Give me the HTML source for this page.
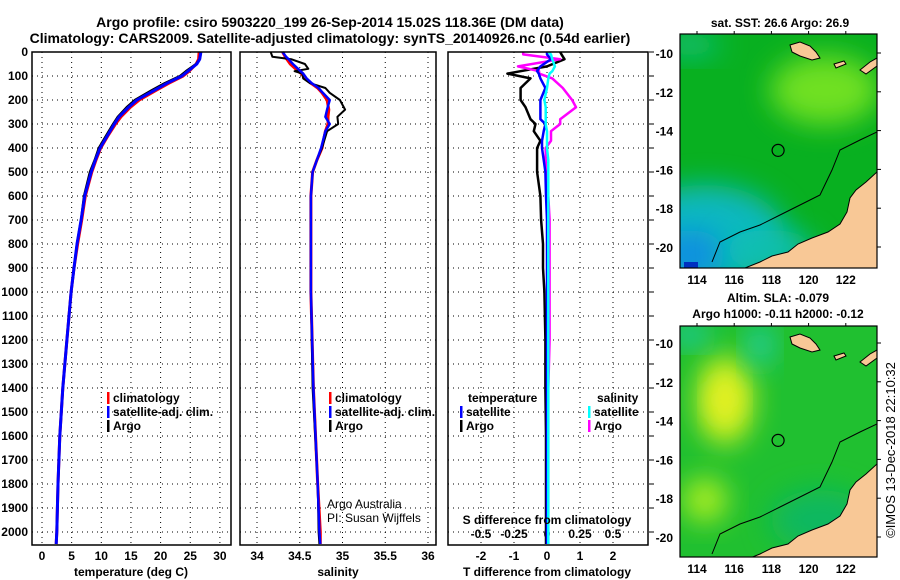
<!DOCTYPE html>
<html><head><meta charset="utf-8">
<style>
body{margin:0;background:#fff;}
svg{display:block;font-family:"Liberation Sans",Arial,sans-serif;}
.b{font-weight:bold;font-size:12px;}
.n{font-weight:normal;}
.t{font-weight:bold;font-size:14px;}
</style></head>
<body>
<svg id="c" width="900" height="580" viewBox="0 0 900 580">
<defs>
<filter id="bl" x="-50%" y="-50%" width="200%" height="200%"><feGaussianBlur stdDeviation="14"/></filter>
<clipPath id="cm1"><rect x="680" y="34" width="197" height="234"/></clipPath>
<clipPath id="cm2"><rect x="680" y="326" width="197" height="231"/></clipPath>
</defs>
<text class="t" x="330" y="27" text-anchor="middle">Argo profile: csiro 5903220_199 26-Sep-2014 15.02S 118.36E (DM data)</text>
<text class="t" x="330" y="43" text-anchor="middle">Climatology: CARS2009. Satellite-adjusted climatology: synTS_20140926.nc (0.54d earlier)</text>
<g id="g"></g>
</svg>
<script>
// ---------- data ----------
const tempDepth=[0,30,50,80,100,130,160,200,230,270,300,350,400,450,500,600,700,800,900,1000,1200,1400,1600,1800,2000,2050];
const tempArgo=[26.8,26.6,26.0,24.3,23.3,20.7,18.5,15.7,14.3,12.8,12.0,10.8,9.6,8.9,8.1,7.1,6.6,5.9,5.4,4.9,4.2,3.5,3.0,2.7,2.5,2.4];
const tempClim=[26.5,26.4,26.0,24.8,23.8,21.4,19.2,16.4,14.9,13.3,12.4,11.1,9.9,9.1,8.4,7.3,6.7,6.0,5.4,4.9,4.2,3.5,3.0,2.7,2.5,2.4];
const tempSat=[26.8,26.6,26.1,24.6,23.6,21.1,18.9,16.0,14.6,13.0,12.2,11.0,9.8,9.0,8.3,7.2,6.6,5.9,5.4,4.9,4.2,3.5,3.0,2.7,2.5,2.4];
const salDepth=[0,20,30,50,70,80,90,110,130,150,170,200,240,270,300,330,400,450,500,600,1000,1400,1800,2000,2050];
const salArgo=[34.16,34.18,34.40,34.56,34.60,34.44,34.53,34.54,34.62,34.80,34.85,34.97,35.03,34.94,34.95,34.82,34.76,34.70,34.65,34.63,34.63,34.65,34.71,34.72,34.73];
const salClim=[34.30,34.33,34.35,34.39,34.45,34.48,34.52,34.56,34.63,34.71,34.76,34.82,34.84,34.83,34.83,34.80,34.76,34.70,34.65,34.63,34.63,34.66,34.71,34.74,34.74];
const salSat=[34.30,34.34,34.37,34.42,34.48,34.51,34.54,34.58,34.64,34.72,34.77,34.85,34.82,34.80,34.85,34.80,34.75,34.70,34.65,34.63,34.63,34.66,34.71,34.73,34.74];
const diffDepth=[0,10,30,60,80,90,110,150,200,230,280,300,330,370,400,450,500,600,700,800,900,1000,1200,1400,1600,2000,2050];
const tDiffArgo=[0.4,0.44,0.53,0.0,-0.8,-1.2,-0.5,-0.8,-0.8,-0.65,-0.5,-0.35,-0.4,-0.2,-0.3,-0.3,-0.3,-0.2,-0.18,-0.12,-0.12,-0.08,-0.05,-0.05,-0.03,-0.03,-0.03];
const tDiffSat=[0.0,0.0,0.12,-0.2,-0.3,-0.25,-0.2,-0.05,-0.2,-0.2,-0.2,-0.05,-0.1,-0.15,-0.15,-0.1,-0.05,-0.03,0,0,0,0,0,0,0,0,0];
const sDiffArgo=[-0.18,-0.18,0.1,-0.22,-0.06,-0.06,0.04,0.12,0.19,0.22,0.1,0.1,0.03,0.03,-0.01,-0.01,0,0.01,0.02,0.02,0.02,0.02,0.02,0.01,0.01,0.01,0.01];
const sDiffSat=[0.01,0.03,0.04,0.06,0.04,0.02,0.01,0.0,-0.02,-0.01,-0.01,-0.01,0,0,0,0.01,0.01,0.01,0.01,0.01,0.01,0.01,0.01,0.01,0.01,0.01,0.01];
const depthTicks=[0,100,200,300,400,500,600,700,800,900,1000,1100,1200,1300,1400,1500,1600,1700,1800,1900,2000];
const tempTicks=[0,5,10,15,20,25,30];
const salTicks=[34,34.5,35,35.5,36];
const salTickLabels=["34","34.5","35","35.5","36"];
const tdTicks=[-2,-1,0,1,2];
const sdTicks=[-0.5,-0.25,0,0.25,0.5];
const sdTickLabels=["-0.5","-0.25","0","0.25","0.5"];
const lonTicks=[114,116,118,120,122];
const latTicks=[-10,-12,-14,-16,-18,-20];
const floatLon=118.36, floatLat=-15.02;

// ---------- scales ----------
const NS="http://www.w3.org/2000/svg";
const G=document.getElementById('g');
const yD=d=>52+d*0.24;
const xT=t=>42+t*5.93;
const xS=s=>257+(s-34)*85.5;
const xTD=v=>547+v*33;
const xSD=v=>547+v*132;
const mx=lon=>697+(lon-114)*18.6;
const my1=lat=>53+(-10-lat)*19.4;
const my2=lat=>343+(-10-lat)*19.4;
function el(tag,at,txt){const e=document.createElementNS(NS,tag);for(const k in at)e.setAttribute(k,at[k]);if(txt!==undefined)e.textContent=txt;G.appendChild(e);return e;}

// ---------- panels ----------
const panels=[{x0:32,x1:231,name:'temperature-panel'},{x0:240,x1:436,name:'salinity-panel'},{x0:448,x1:648,name:'difference-panel'}];
panels.forEach(p=>{
  depthTicks.forEach(d=>{const l=el('line',{x1:p.x0,x2:p.x1,y1:yD(d),y2:yD(d),stroke:'#000','stroke-width':1,'stroke-dasharray':'1,4'});
  });
});
tempTicks.forEach(t=>{const l=el('line',{x1:xT(t),x2:xT(t),y1:52,y2:545,stroke:'#000','stroke-dasharray':'1,4'});
 const tx=el('text',{x:xT(t),y:560,'text-anchor':'middle',class:'b'},String(t));});
salTicks.forEach((s,i)=>{const l=el('line',{x1:xS(s),x2:xS(s),y1:52,y2:545,stroke:'#000','stroke-dasharray':'1,4'});
 const tx=el('text',{x:xS(s),y:560,'text-anchor':'middle',class:'b'},salTickLabels[i]);});
tdTicks.forEach(v=>{const l=el('line',{x1:xTD(v),x2:xTD(v),y1:52,y2:545,stroke:'#000','stroke-dasharray':'1,4'});
 const tx=el('text',{x:xTD(v),y:560,'text-anchor':'middle',class:'b'},String(v));});
sdTicks.forEach((v,i)=>{const tx=el('text',{x:xSD(v),y:538,'text-anchor':'middle',class:'b'},sdTickLabels[i]);});
depthTicks.forEach(d=>{const tx=el('text',{x:28,y:yD(d)+4,'text-anchor':'end',class:'b'},String(d));
 const tk=el('line',{x1:649,x2:654,y1:yD(d),y2:yD(d),stroke:'#000'});});

function line(xs,ds,sx,color,w,name){
  const pts=xs.map((v,i)=>sx(v).toFixed(1)+','+yD(ds[i]).toFixed(1)).join(' ');
  const pl=el('polyline',{points:pts,fill:'none',stroke:color,'stroke-width':w,'stroke-linejoin':'round'});
  
}
line(tempClim,tempDepth,xT,'#f00',3,'temp-climatology-line');
line(tempArgo,tempDepth,xT,'#000',2.5,'temp-argo-line');
line(tempSat,tempDepth,xT,'#00f',3,'temp-satellite-line');
line(salClim,salDepth,xS,'#f00',3,'sal-climatology-line');
line(salArgo,salDepth,xS,'#000',2,'sal-argo-line');
line(salSat,salDepth,xS,'#00f',2.5,'sal-satellite-line');
line(tDiffArgo,diffDepth,xTD,'#000',2.5,'tdiff-argo-line');
line(sDiffArgo,diffDepth,xSD,'#f0f',2.5,'sdiff-argo-line');
line(tDiffSat,diffDepth,xTD,'#00f',2.5,'tdiff-satellite-line');
line(sDiffSat,diffDepth,xSD,'#0ff',2.5,'sdiff-satellite-line');

panels.forEach(p=>{const r=el('rect',{x:p.x0,y:52,width:p.x1-p.x0,height:493,fill:'none',stroke:'#000','stroke-width':1.5});});

function txt(x,y,s,name,anchor,cls,extra){const t=el('text',Object.assign({x:x,y:y,'text-anchor':anchor||'start',class:cls||'b'},extra||{}),s);return t;}
txt(131,576,'temperature (deg C)','temp-x-axis-title','middle');
txt(338,576,'salinity','sal-x-axis-title','middle');
txt(547,576,'T difference from climatology','tdiff-x-axis-title','middle');
txt(547,524,'S difference from climatology','sdiff-x-axis-title','middle');
function leg(x,y,c,s,name){const r=el('rect',{x:x,y:y-10,width:2.5,height:12,fill:c});txt(x+6,y,s,name);}
leg(107,402,'#f00','climatology','legend-temp-climatology');
leg(107,416,'#00f','satellite-adj. clim.','legend-temp-satellite');
leg(107,430,'#000','Argo','legend-temp-argo');
leg(329,402,'#f00','climatology','legend-sal-climatology');
leg(329,416,'#00f','satellite-adj. clim.','legend-sal-satellite');
leg(329,430,'#000','Argo','legend-sal-argo');
txt(468,402,'temperature','legend-tdiff-heading');
leg(460,416,'#00f','satellite','legend-tdiff-satellite');
leg(460,430,'#000','Argo','legend-tdiff-argo');
txt(597,402,'salinity','legend-sdiff-heading');
leg(588,416,'#0ff','satellite','legend-sdiff-satellite');
leg(588,430,'#f0f','Argo','legend-sdiff-argo');
txt(327,508,'Argo Australia','credit-line-1','start','n',{'font-size':'12px'});
txt(327,522,'PI: Susan Wijffels','credit-line-2','start','n',{'font-size':'12px'});

// ---------- maps ----------
const land='M877,172 L866,182 L856,190 L850,198 L847,212 L840,224 L828,232 L812,238 L798,244 L788,252 L772,256 L760,262 L745,268 L877,268 Z';
const isl1='M790,45 L800,42 L810,46 L816,52 L820,58 L812,60 L800,56 L792,52 Z';
const isl2='M834,64 L844,61 L846,64 L836,68 Z M860,70 L870,62 L877,58 L877,66 L866,74 Z';
const contour='M877,132 L860,140 L840,150 L832,170 L820,195 L800,205 L780,215 L760,225 L740,232 L720,242 L712,262';
function map(dy,clip,my,kind,name){
  const g=document.createElementNS(NS,'g');g.setAttribute('clip-path','url(#'+clip+')');G.appendChild(g);
  const add=(tag,at)=>{const e=document.createElementNS(NS,tag);for(const k in at)e.setAttribute(k,at[k]);g.appendChild(e);return e;};
  const y0=dy?326:34,h=dy?231:234;
  if(kind==='sst'){
    add('rect',{x:680,y:y0,width:197,height:h,fill:'#08b020'});
    add('ellipse',{cx:825,cy:90,rx:55,ry:35,fill:'#70e020',filter:'url(#bl)'});
    add('ellipse',{cx:705,cy:235,rx:80,ry:50,fill:'#10b8c0',filter:'url(#bl)'});
    add('ellipse',{cx:690,cy:255,rx:35,ry:25,fill:'#1090e0',filter:'url(#bl)'});
    add('ellipse',{cx:770,cy:250,rx:45,ry:20,fill:'#10c0b0',filter:'url(#bl)'});
    add('ellipse',{cx:690,cy:45,rx:30,ry:12,fill:'#10c080',filter:'url(#bl)'});
    add('rect',{x:684,y:262,width:14,height:6,fill:'#0030c0'});
  }else{
    add('rect',{x:680,y:326,width:197,height:231,fill:'#20c030'});
    add('ellipse',{cx:725,cy:400,rx:28,ry:45,fill:'#d0f020',filter:'url(#bl)'});
    add('ellipse',{cx:725,cy:400,rx:14,ry:20,fill:'#f0f020',filter:'url(#bl)'});
    add('ellipse',{cx:705,cy:500,rx:22,ry:22,fill:'#b0f020',filter:'url(#bl)'});
    add('ellipse',{cx:760,cy:345,rx:12,ry:22,fill:'#20d0b0',filter:'url(#bl)'});
    add('ellipse',{cx:690,cy:335,rx:20,ry:10,fill:'#20d0c0',filter:'url(#bl)'});
    add('ellipse',{cx:820,cy:520,rx:50,ry:30,fill:'#10b860',filter:'url(#bl)'});
  }
  const off='translate(0,'+dy+')';
  add('path',{d:contour,fill:'none',stroke:'#000','stroke-width':1,transform:off});
  add('path',{d:land,fill:'#f8c896',stroke:'#000','stroke-width':1,transform:off});
  add('path',{d:isl1,fill:'#f8c896',stroke:'#000','stroke-width':1,transform:off});
  add('path',{d:isl2,fill:'#f8c896',stroke:'#000','stroke-width':1,transform:off});
  const c=add('circle',{cx:mx(floatLon),cy:my(floatLat),r:6,fill:'none',stroke:'#000','stroke-width':1.2});
  
  const fr=el('rect',{x:680,y:y0,width:197,height:h,fill:'none',stroke:'#000','stroke-width':1.2});
  lonTicks.forEach(l=>{txt(mx(l),y0+h+16,String(l),'lon-tick-label','middle','b',{'font-size':'13px'});
    const tk=el('line',{x1:mx(l),x2:mx(l),y1:y0-3,y2:y0,stroke:'#000'});});
  latTicks.forEach(l=>{txt(673,my(l)+5,String(l),'lat-tick-label','end','b',{'font-size':'13px'});
    const tk=el('line',{x1:877,x2:881,y1:my(l),y2:my(l),stroke:'#000'});});
}
map(0,'cm1',my1,'sst','sst-map');
map(292,'cm2',my2,'sla','sla-map');
txt(780,27,'sat. SST: 26.6 Argo: 26.9','sst-map-title','middle','b',{'font-size':'13px'});
txt(778,302,'Altim. SLA: -0.079','sla-map-title','middle','b',{'font-size':'13px'});
txt(778,318,'Argo h1000: -0.11 h2000: -0.12','sla-map-subtitle','middle','b',{'font-size':'13px'});
txt(0,0,'©IMOS 13-Dec-2018 22:10:32','timestamp-label','middle','n',{'font-size':'13px',transform:'translate(895,450) rotate(-90)'});
</script>
</body></html>
